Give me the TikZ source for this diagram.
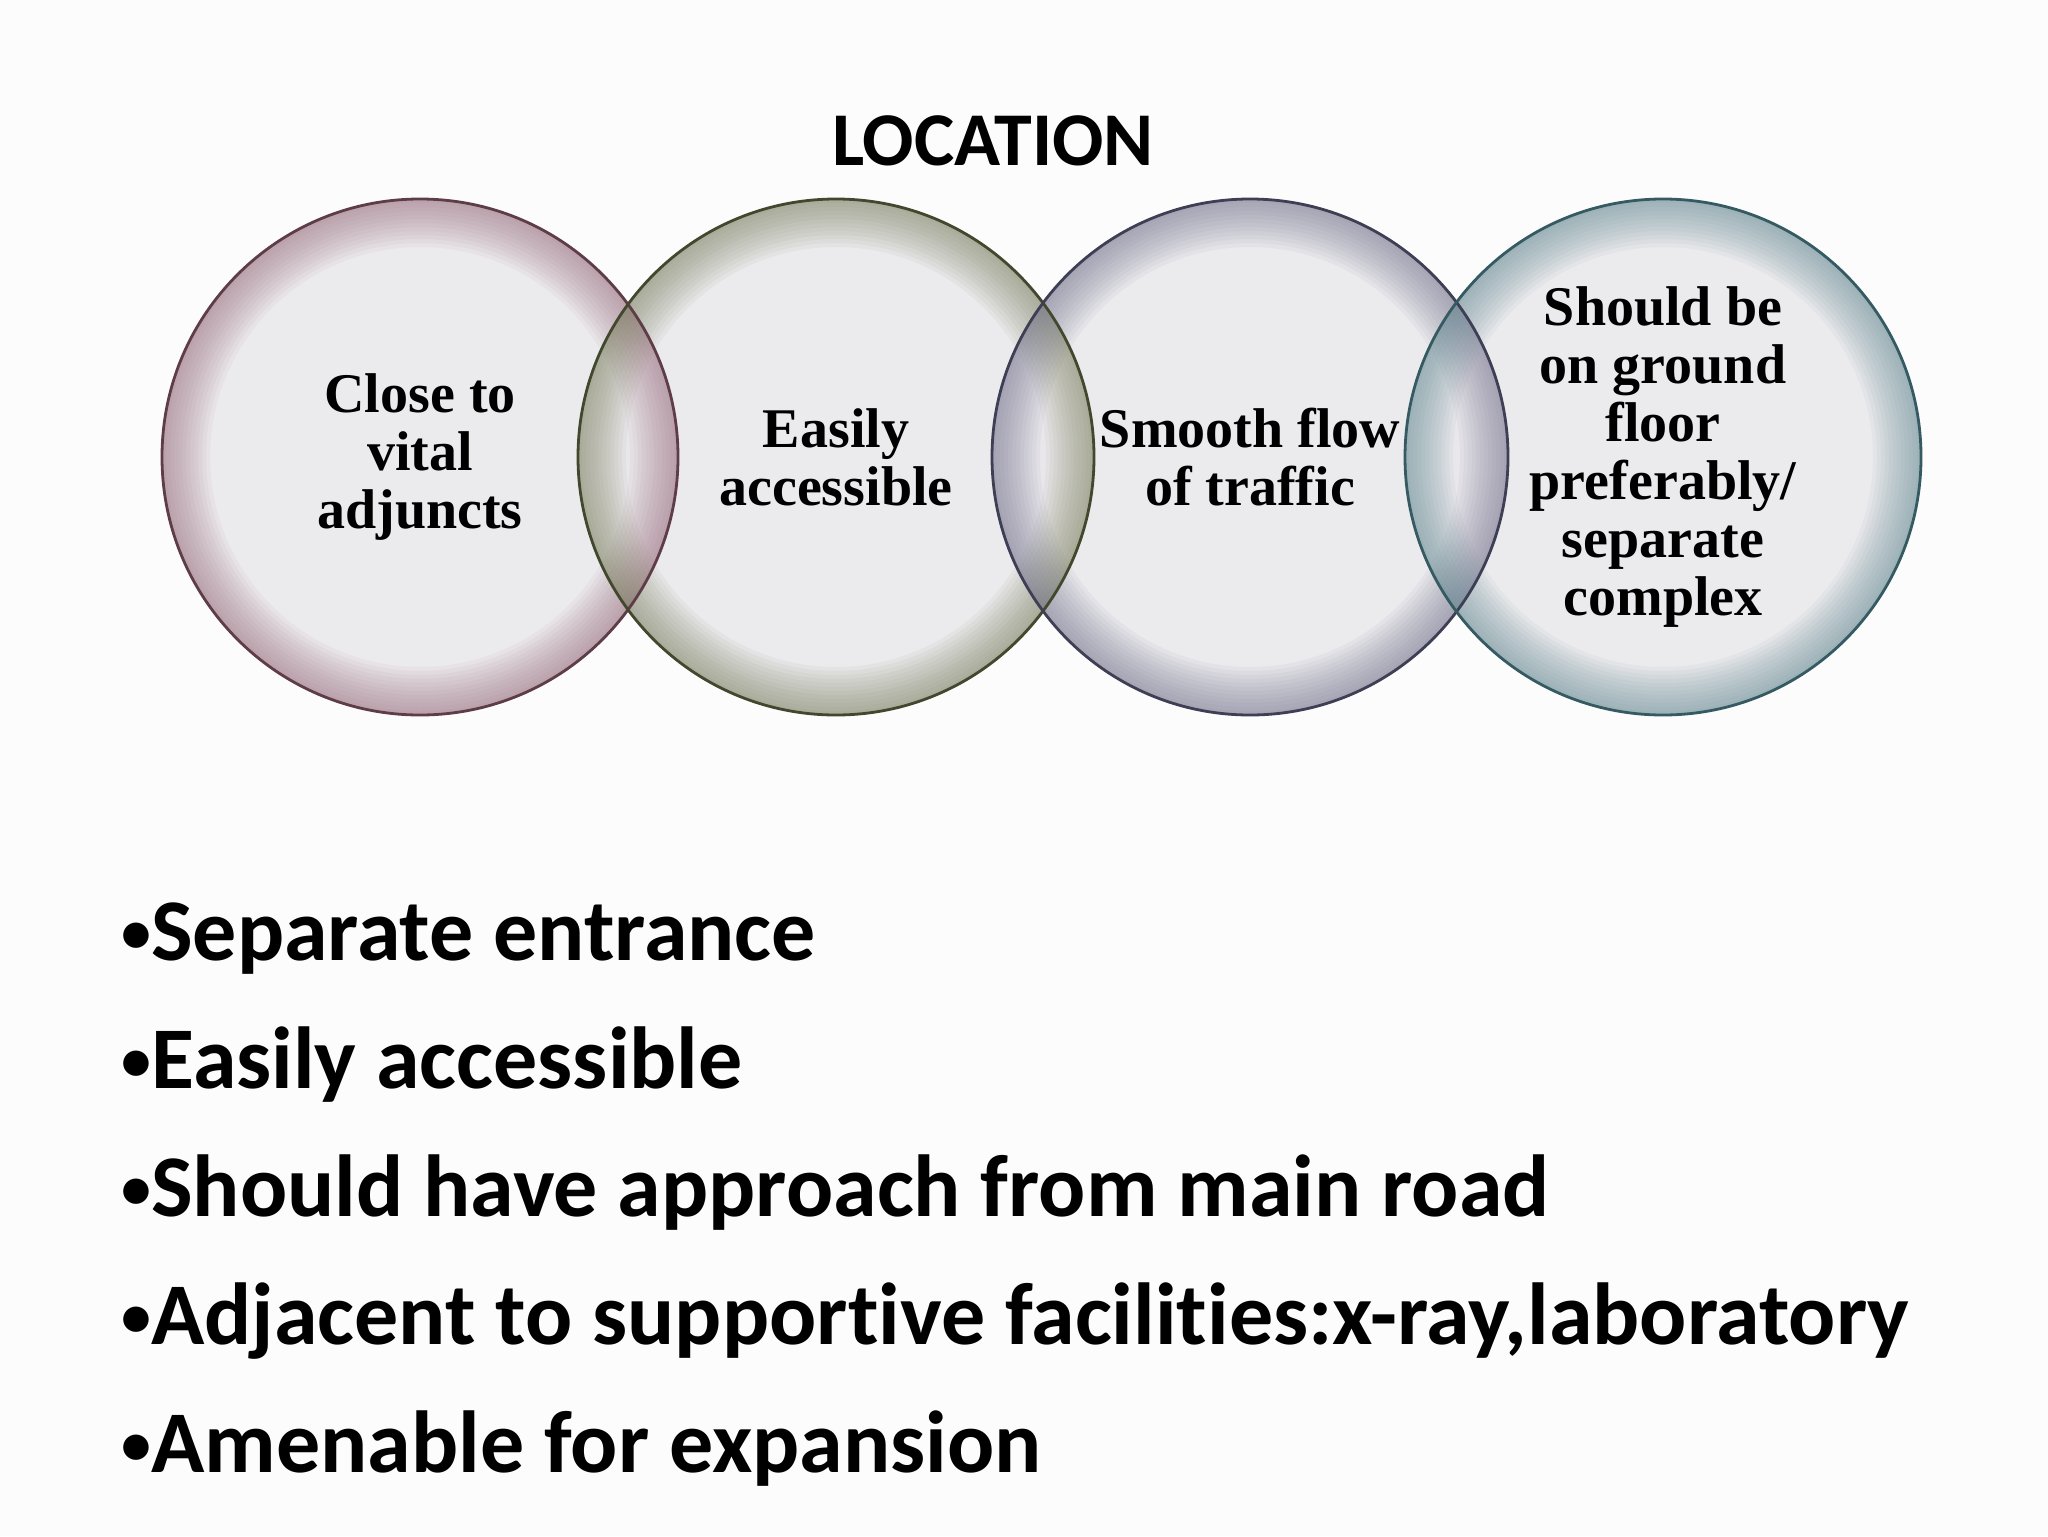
\documentclass[tikz,border=0pt]{standalone}
\usepackage{fontspec}
\setmainfont{Liberation Serif}
\newfontfamily\calib[Ligatures=NoCommon]{Carlito}
\definecolor{bgc}{HTML}{FCFCFC}
\definecolor{cin}{HTML}{E9E7EB}
\definecolor{rimA}{HTML}{966878}
\definecolor{rimB}{HTML}{767C58}
\definecolor{rimC}{HTML}{6E6E88}
\definecolor{rimD}{HTML}{5E8890}
\definecolor{lnA}{HTML}{5E3C48}
\definecolor{lnB}{HTML}{42482E}
\definecolor{lnC}{HTML}{3E3E54}
\definecolor{lnD}{HTML}{365A62}
\newcommand{\bulx}{{\fontsize{30}{30}\selectfont\raisebox{4pt}{•}}}
\newcommand{\glowring}[2]{%
  \foreach \k in {1,...,12}{%
    \fill[#2, opacity=0.06, even odd rule] (#1) circle (258) (#1) circle ({258-4*\k});
  }%
}
\tikzset{
  bubble/.style={circle, minimum size=258pt, inner sep=0pt, fill=cin, fill opacity=0.85},
  ctext/.style={align=center, inner sep=0pt, font=\fontsize{28}{29}\selectfont\bfseries},
  bul/.style={anchor=base west, inner sep=0pt, font=\calib\fontsize{44}{50}\selectfont\bfseries}
}
\begin{document}
\begin{tikzpicture}[x=0.5pt,y=-0.5pt]
\fill[bgc] (0,0) rectangle (2048,1536);
\useasboundingbox (0,0) rectangle (2048,1536);
\node[inner sep=0pt, anchor=base, font=\calib\fontsize{38}{40}\selectfont\bfseries] (title) at (993,165) {LOCATION};
\node[bubble] (c1) at (420,457) {};
\node[bubble] (c2) at (836,457) {};
\node[bubble] (c3) at (1250,457) {};
\node[bubble] (c4) at (1663,457) {};
\glowring{c1.center}{rimA}
\glowring{c2.center}{rimB}
\glowring{c3.center}{rimC}
\glowring{c4.center}{rimD}
\draw[lnA, line width=1.4pt] (c1.center) circle (258);
\draw[lnB, line width=1.4pt] (c2.center) circle (258);
\draw[lnC, line width=1.4pt] (c3.center) circle (258);
\draw[lnD, line width=1.4pt] (c4.center) circle (258);
\node[ctext] (t1) at (c1.center) {Close to\\vital\\adjuncts};
\node[ctext] (t2) at (c2.center) {Easily\\accessible};
\node[ctext] (t3) at (c3.center) {Smooth flow\\of traffic};
\node[ctext] (t4) at (c4.center) {Should be\\on ground\\floor\\preferably/\\separate\\complex};
\node[bul] (b1) at (121,960) {\bulx Separate entrance};
\node[bul] (b2) at (121,1088) {\bulx Easily accessible};
\node[bul] (b3) at (121,1216) {\bulx Should have approach from main road};
\node[bul] (b4) at (121,1344) {\bulx Adjacent to supportive facilities:x-ray,laboratory};
\node[bul] (b5) at (121,1472) {\bulx Amenable for expansion};
\end{tikzpicture}
\end{document}
